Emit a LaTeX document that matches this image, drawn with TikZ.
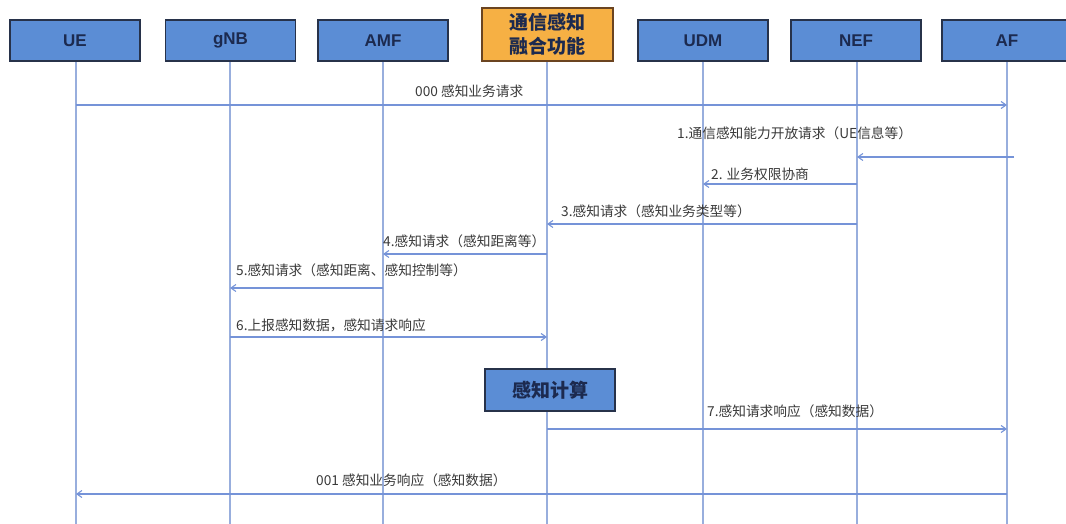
\documentclass[tikz,border=0pt]{standalone}
\usepackage{fontspec}
\setmainfont{Liberation Sans}
\newfontfamily\cjk{Noto Sans CJK SC}
\usetikzlibrary{arrows.meta}
\definecolor{boxblue}{HTML}{5B8DD5}
\definecolor{boxedge}{HTML}{27324A}
\definecolor{boxtext}{HTML}{1C2A4F}
\definecolor{orgfill}{HTML}{F6B044}
\definecolor{orgedge}{HTML}{6B4420}
\definecolor{lifecol}{HTML}{98AEDD}
\definecolor{msgcol}{HTML}{7593D8}
\definecolor{lbltext}{HTML}{3A3A3A}
\tikzset{
  entity/.style={draw=boxedge, line width=1.6pt, fill=boxblue, minimum width=130pt, minimum height=41pt, inner sep=0pt, text=boxtext, font=\fontsize{17}{20}\selectfont\bfseries},
  fusionbox/.style={draw=orgedge, line width=1.6pt, fill=orgfill, minimum width=131pt, minimum height=53pt, inner sep=0pt, text=boxtext, align=center, font=\cjk\fontsize{19}{24}\selectfont\bfseries},
  calcbox/.style={draw=boxedge, line width=1.6pt, fill=boxblue, minimum width=130pt, minimum height=42pt, inner sep=0pt, text=boxtext, font=\cjk\fontsize{19}{22}\selectfont\bfseries},
  lifeline/.style={draw=lifecol, line width=1.4pt},
  msg/.style={draw=msgcol, line width=1.3pt, -{Straight Barb[length=5pt,width=7pt,line width=1.1pt]}},
  lbl/.style={anchor=west, inner sep=0pt, text=lbltext, font=\cjk\fontsize{13.7}{16}\selectfont}
}
\begin{document}
\begin{tikzpicture}[x=1pt,y=-1pt]
\useasboundingbox (0,0) rectangle (1066,524);
\fill[white] (0,0) rectangle (1066,524);
% lifeline bottoms
\coordinate (ueb) at (76,524);
\coordinate (gnbb) at (230,524);
\coordinate (amfb) at (383,524);
\coordinate (fusb) at (547,524);
\coordinate (udmb) at (703,524);
\coordinate (nefb) at (857,524);
\coordinate (afb) at (1007,524);
% lifelines
\draw[lifeline] (76,61) -- (ueb);
\draw[lifeline] (230,61) -- (gnbb);
\draw[lifeline] (383,61) -- (amfb);
\draw[lifeline] (547,61) -- (fusb);
\draw[lifeline] (703,61) -- (udmb);
\draw[lifeline] (857,61) -- (nefb);
\draw[lifeline] (1007,61) -- (afb);
% entities
\node[entity] (ue) at (75,40.5) {UE};
\node[entity] (gnb) at (230.5,40.5) {gNB};
\node[entity] (amf) at (383,40.5) {AMF};
\node[fusionbox] (fus) at (547.5,34.5) {通信感知\\融合功能};
\node[entity] (udm) at (703,40.5) {UDM};
\node[entity] (nef) at (856,40.5) {NEF};
\node[entity] (af) at (1007,40.5) {AF};
\coordinate (afx) at (1014,157);
% messages
\draw[msg] (ueb |- 0,105) -- (afb |- 0,105);
\node[lbl] (l000) at (415,91) {000 感知业务请求};
\draw[msg] (afx) -- (nefb |- afx);
\node[lbl] (l1) at (677,133) {1.通信感知能力开放请求（UE信息等）};
\draw[msg] (nefb |- 0,184) -- (udmb |- 0,184);
\node[lbl] (l2) at (711,174) {2. 业务权限协商};
\draw[msg] (nefb |- 0,224) -- (fusb |- 0,224);
\node[lbl] (l3) at (561,211) {3.感知请求（感知业务类型等）};
\draw[msg] (fusb |- 0,254) -- (amfb |- 0,254);
\node[lbl] (l4) at (383,241) {4.感知请求（感知距离等）};
\draw[msg] (amfb |- 0,288) -- (gnbb |- 0,288);
\node[lbl] (l5) at (236,270) {5.感知请求（感知距离、感知控制等）};
\draw[msg] (gnbb |- 0,337) -- (fusb |- 0,337);
\node[lbl] (l6) at (236,325) {6.上报感知数据，感知请求响应};
\node[calcbox] (calc) at (550,390) {感知计算};
\draw[msg] (fusb |- 0,429) -- (afb |- 0,429);
\node[lbl] (l7) at (707,411) {7.感知请求响应（感知数据）};
\draw[msg] (afb |- 0,494) -- (ueb |- 0,494);
\node[lbl] (l001) at (316,480) {001 感知业务响应（感知数据）};
\end{tikzpicture}
\end{document}
